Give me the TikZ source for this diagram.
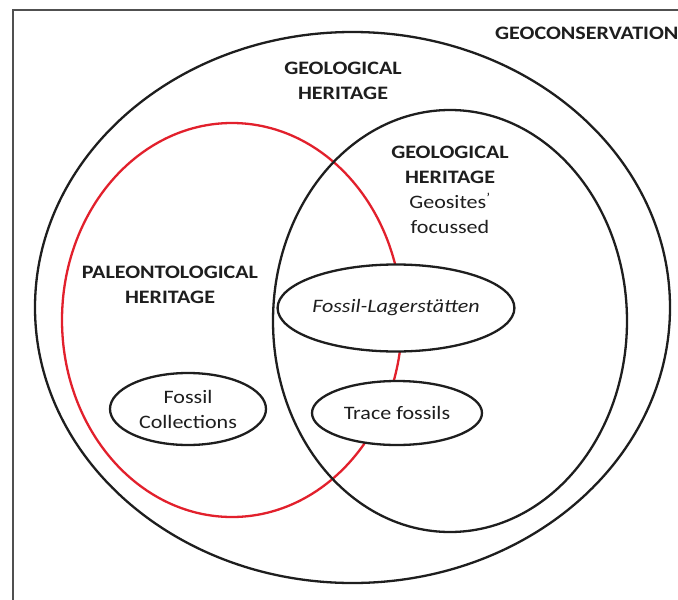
\documentclass[tikz,border=0pt]{standalone}
\usepackage{fontspec}
\setmainfont{Carlito}[FakeStretch=1.16]
\usetikzlibrary{shapes.geometric}
\definecolor{redline}{RGB}{226,32,44}
\definecolor{ink}{RGB}{30,30,30}
\definecolor{framegray}{RGB}{80,80,80}
\begin{document}
\begin{tikzpicture}[x=1pt,y=-1pt,
  ring/.style={draw=ink, line width=2.3pt, ellipse, inner sep=0pt},
  redring/.style={ring, draw=redline},
  bubble/.style={ring, fill=white, align=center, text=ink,
    font=\fontsize{19}{25}\selectfont},
  lbl/.style={inner sep=0pt, align=center, text=ink,
    font=\fontsize{19}{25}\selectfont\bfseries},
  frameline/.style={draw=framegray, line width=2.2pt}]
\useasboundingbox (0,0) rectangle (678,600);
\fill[white] (0,0) rectangle (678,600);
\coordinate (fbl) at (13,600);
\coordinate (ftl) at (13,10);
\coordinate (ftr) at (678,10);
\draw[frameline] (fbl) -- (ftl) -- (ftr);
% big rings
\node[redring, minimum width=340pt, minimum height=394pt] (paleo) at (232,320) {};
\node[ring, minimum width=635pt, minimum height=551pt] (geocons) at (352.5,307.5) {};
\node[ring, minimum width=354pt, minimum height=422pt] (geosites) at (450,321) {};
% small bubbles
\node[bubble, minimum width=212pt, minimum height=87pt] (lager) at (396,308) {\itshape Fossil-Lagerstätten};
\node[bubble, minimum width=170pt, minimum height=64pt] (trace) at (397,413) {Trace fossils};
\node[bubble, minimum width=156pt, minimum height=72pt] (coll) at (188,409) {Fossil\\Collections};
% labels
\node[lbl, anchor=west] (geoconslbl) at (495,33) {GEOCONSERVATION};
\node[lbl] (geoherlbl) at (343,80.5) {GEOLOGICAL\\HERITAGE};
\node[lbl] (geositelbl) at (450,190) {GEOLOGICAL\\HERITAGE\\\mdseries Geosites\textsuperscript{’}\\\mdseries focussed};
\node[lbl] (paleolbl) at (170,284.5) {PALEONTOLOGICAL\\HERITAGE};
\end{tikzpicture}
\end{document}
